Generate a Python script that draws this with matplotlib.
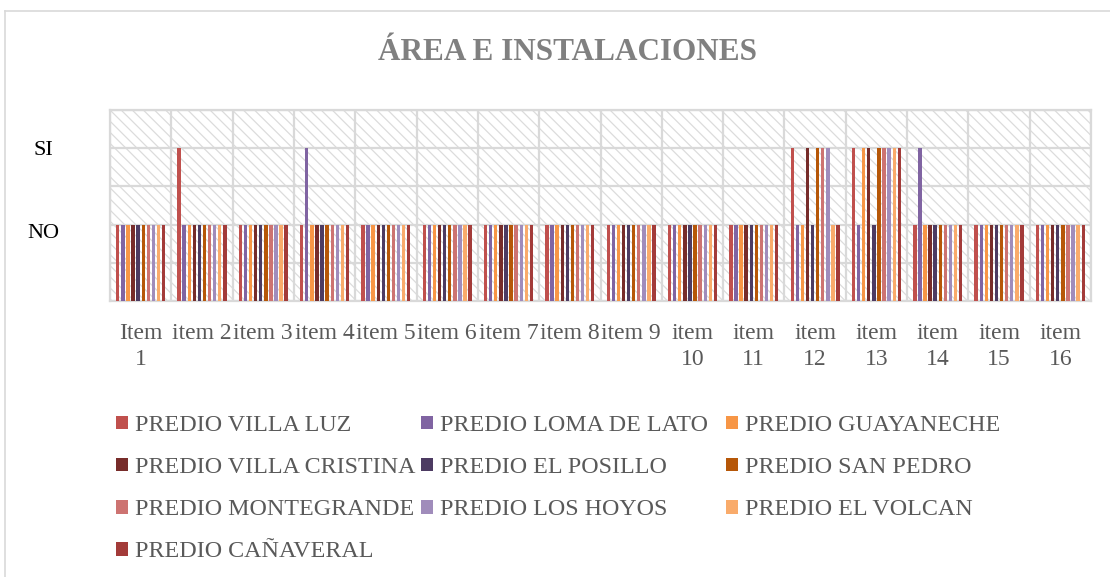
import matplotlib
matplotlib.use("Agg")
import matplotlib.pyplot as plt
from matplotlib.patches import Rectangle
from matplotlib.transforms import ScaledTranslation
from matplotlib.lines import Line2D
import numpy as np

categories = ["Item\n1", "item 2", "item 3", "item 4", "item 5", "item 6", "item 7",
              "item 8", "item 9", "item\n10", "item\n11", "item\n12", "item\n13",
              "item\n14", "item\n15", "item\n16"]

series_names = ["PREDIO VILLA LUZ", "PREDIO LOMA DE LATO", "PREDIO GUAYANECHE",
                "PREDIO VILLA CRISTINA", "PREDIO EL POSILLO", "PREDIO SAN PEDRO",
                "PREDIO MONTEGRANDE", "PREDIO LOS HOYOS", "PREDIO EL VOLCAN",
                "PREDIO CAÑAVERAL"]

colors = ["#C0504D", "#8064A2", "#F79646", "#772C2A", "#4D3B62", "#B65708",
          "#CD7371", "#A08CBB", "#F9AB6B", "#A33B39"]

# values per series (1 = NO, 2 = SI), one value per item
villa_luz      = [1, 2, 1, 1, 1, 1, 1, 1, 1, 1, 1, 2, 2, 1, 1, 1]
loma_de_lato   = [1, 1, 1, 2, 1, 1, 1, 1, 1, 1, 1, 1, 1, 2, 1, 1]
guayaneche     = [1, 1, 1, 1, 1, 1, 1, 1, 1, 1, 1, 1, 2, 1, 1, 1]
villa_cristina = [1, 1, 1, 1, 1, 1, 1, 1, 1, 1, 1, 2, 2, 1, 1, 1]
el_posillo     = [1, 1, 1, 1, 1, 1, 1, 1, 1, 1, 1, 1, 1, 1, 1, 1]
san_pedro      = [1, 1, 1, 1, 1, 1, 1, 1, 1, 1, 1, 2, 2, 1, 1, 1]
montegrande    = [1, 1, 1, 1, 1, 1, 1, 1, 1, 1, 1, 2, 2, 1, 1, 1]
los_hoyos      = [1, 1, 1, 1, 1, 1, 1, 1, 1, 1, 1, 2, 2, 1, 1, 1]
el_volcan      = [1, 1, 1, 1, 1, 1, 1, 1, 1, 1, 1, 1, 2, 1, 1, 1]
canaveral      = [1, 1, 1, 1, 1, 1, 1, 1, 1, 1, 1, 1, 2, 1, 1, 1]

series_values = [villa_luz, loma_de_lato, guayaneche, villa_cristina, el_posillo,
                 san_pedro, montegrande, los_hoyos, el_volcan, canaveral]

y_ticks = [1, 2]
y_labels = ["NO", "SI"]

plt.rcParams['font.family'] = ['Liberation Serif', 'DejaVu Serif']
plt.rcParams['hatch.linewidth'] = 0.9

W, H = 1110, 577
fig = plt.figure(figsize=(W / 100, H / 100), dpi=100)

# outer chart border (top and left)
fig.add_artist(Line2D([5 / W, 1.0], [1 - 11 / H, 1 - 11 / H], transform=fig.transFigure,
                      color="#D9D9D9", lw=1.2))
fig.add_artist(Line2D([5 / W, 5 / W], [0, 1 - 11 / H], transform=fig.transFigure,
                      color="#D9D9D9", lw=1.2))

ax = fig.add_axes([110 / W, 1 - 301 / H, (1091 - 110) / W, (301 - 110) / H])

# hatched background
ax.add_patch(Rectangle((0, 0), 1, 1, transform=ax.transAxes, facecolor="white",
                       edgecolor="#DCDCDC", hatch="\\\\\\", lw=0, zorder=0))

x = np.arange(len(categories))
n = len(series_values)
slot = 0.083
bw = 0.055
for j, (vals, c, name) in enumerate(zip(series_values, colors, series_names)):
    ax.bar(x + (j - (n - 1) / 2) * slot, vals, width=bw, color=c, label=name, zorder=3)

ax.set_xlim(-0.5, len(categories) - 0.5)
ax.set_ylim(0, 2.5)

ax.set_yticks(np.arange(0, 2.51, 0.5), minor=True)
ax.set_yticks(y_ticks)
ax.set_yticklabels(y_labels)
ax.set_xticks(x)
ax.set_xticklabels(categories, multialignment="center", linespacing=1.3)
ax.set_xticks(np.arange(-0.5, len(categories), 1.0), minor=True)

ax.grid(True, which="minor", axis="both", color="#D9D9D9", lw=1.6, zorder=1)
ax.grid(True, which="major", axis="y", color="#D9D9D9", lw=1.6, zorder=1)
ax.set_axisbelow(True)
ax.tick_params(axis="both", which="both", length=0)
ax.tick_params(axis="x", labelsize=17, labelcolor="#595959", pad=16)
ax.tick_params(axis="y", labelsize=16, labelcolor="#000000", pad=48)
for lab in ax.get_yticklabels():
    lab.set_horizontalalignment("center")
no_lab = ax.get_yticklabels()[0]
no_lab.set_transform(no_lab.get_transform() + ScaledTranslation(0, -6 / 100, fig.dpi_scale_trans))

for s in ax.spines.values():
    s.set_color("#D9D9D9")
    s.set_linewidth(1.6)

fig.text(568 / W, 1 - 52 / H, "ÁREA E INSTALACIONES", ha="center", va="center",
         fontsize=22.5, fontweight="bold", color="#808080")

# legend in three equal-width columns, filled row-wise
handles, labels = ax.get_legend_handles_labels()
col_x = [116, 421, 726]
for ci in range(3):
    idx = list(range(ci, n, 3))
    leg = fig.legend([handles[i] for i in idx], [labels[i] for i in idx],
                     loc="upper left", bbox_to_anchor=(col_x[ci] / W, 1 - 415 / H),
                     frameon=False, fontsize=17.3, handlelength=0.5, handleheight=0.5,
                     handletextpad=0.3, labelspacing=0.88, borderaxespad=0, borderpad=0)
    for t in leg.get_texts():
        t.set_color("#595959")

fig.savefig("out.png", dpi=100)
